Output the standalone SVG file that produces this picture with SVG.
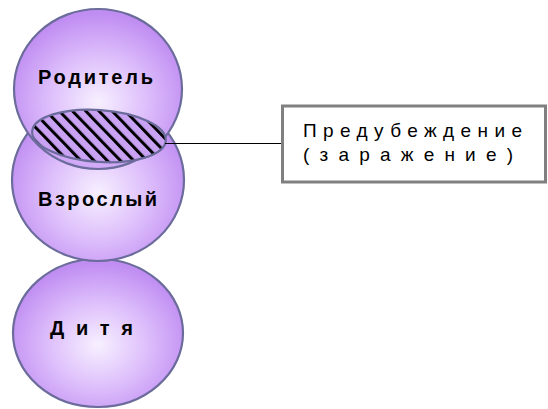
<svg xmlns="http://www.w3.org/2000/svg" width="548" height="409" viewBox="0 0 548 409">
<defs>
<radialGradient id="g" cx="0.5" cy="0.58" r="0.55" fx="0.5" fy="0.58">
<stop offset="0" stop-color="#f7f0ff"/>
<stop offset="0.55" stop-color="#dcbcfb"/>
<stop offset="1" stop-color="#c08ef2"/>
</radialGradient>
<pattern id="hatch" patternUnits="userSpaceOnUse" width="9.5" height="9.5" patternTransform="rotate(-48)">
<rect x="0" y="0" width="3" height="9.5" fill="#000"/>
</pattern>
<style>
.node{fill:url(#g);stroke:#6b6b9c;stroke-width:2.2}
.lbl{font-family:"Liberation Sans",Arial,sans-serif;font-weight:bold;font-size:20px;fill:#000}
.note{font-family:"Liberation Sans",Arial,sans-serif;font-size:19px;fill:#000}
</style>
</defs>
<g id="child">
<ellipse class="node" cx="98" cy="333" rx="85" ry="74"/>
<text class="lbl" x="50" y="335" textLength="83" lengthAdjust="spacing">Дитя</text>
</g>
<g id="adult">
<ellipse class="node" cx="98" cy="180" rx="86" ry="81"/>
<text class="lbl" x="38" y="206" textLength="119" lengthAdjust="spacing">Взрослый</text>
</g>
<g id="parent">
<ellipse class="node" cx="98" cy="89" rx="84" ry="80"/>
<text class="lbl" x="38" y="84" textLength="115" lengthAdjust="spacing">Родитель</text>
</g>
<g id="prejudice-zone">
<g transform="rotate(4 99 136)">
<ellipse cx="99" cy="136" rx="67" ry="26" fill="#c9a2f4"/>
<ellipse cx="99" cy="136" rx="67" ry="26" fill="url(#hatch)"/>
<ellipse cx="99" cy="136" rx="67" ry="26" fill="none" stroke="#6b6b9c" stroke-width="2.2"/>
</g>
</g>
<g id="connectors">
<line x1="165" y1="143.5" x2="282" y2="143.5" stroke="#000" stroke-width="1.2"/>
</g>
<g id="note">
<rect x="282.5" y="106" width="263" height="76" fill="#fff" stroke="#808080" stroke-width="3"/>
<text class="note" x="303" y="137" textLength="219" lengthAdjust="spacing">Предубеждение</text>
<text class="note" x="303" y="161" textLength="210" lengthAdjust="spacing">(заражение)</text>
</g>
</svg>
